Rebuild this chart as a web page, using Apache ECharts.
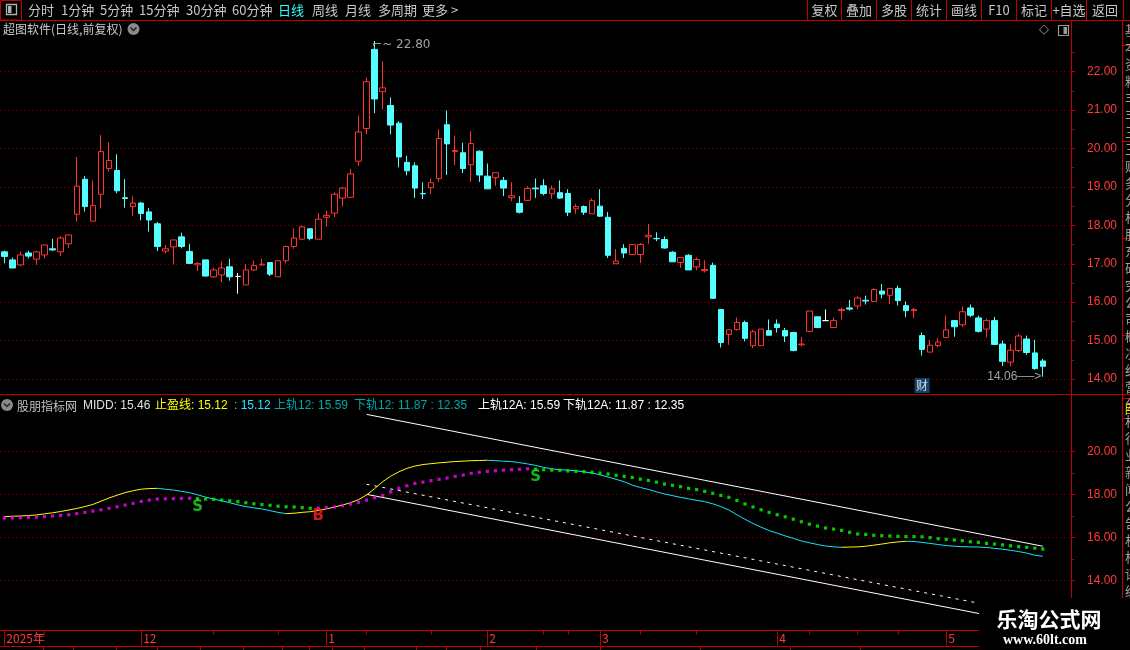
<!DOCTYPE html>
<html><head><meta charset="utf-8">
<script src="https://cdn.jsdelivr.net/npm/echarts@6/dist/echarts.min.js"></script>
<style>html,body{margin:0;padding:0;background:#000;overflow:hidden}#c{width:1130px;height:650px}</style>
</head><body><div id="c"></div>
<script>
// ---------- data ----------
const opens = [17.31,17.10,16.97,17.28,17.12,17.23,17.39,17.31,17.52,18.29, 19.20,18.11,18.81,19.48,19.43,18.72,18.49,18.58,18.35,18.04,
 17.33,17.44,17.70,17.32,16.97,17.10,16.66,16.71,16.92,16.67, 16.45,16.84,16.97,17.03,16.66,17.08,17.45,17.64,17.91,17.64,
 18.21,18.32,18.71,18.73,19.67,20.52,22.58,21.48,21.12,20.66, 19.64,19.55,18.83,18.98,19.22,20.62,19.92,19.89,19.58,19.93,
 19.28,19.24,19.17,18.72,18.57,18.65,18.97,19.03,18.82,18.85, 18.83,18.43,18.49,18.30,18.50,18.21,17.00,17.40,17.24,17.24,
 17.70,17.66,17.63,17.30,17.03,17.22,16.92,16.82,16.96,15.81, 15.16,15.29,15.47,14.87,14.87,15.26,15.43,15.26,15.21,14.89,
 15.24,15.62,15.52,15.34,15.78,15.85,15.90,16.05,16.02,16.29, 16.18,16.36,15.91,15.78,15.13,14.70,14.87,15.08,15.52,15.41,
 15.85,15.59,15.30,15.52,14.91,14.44,14.74,15.04,14.68,14.47];
const closes = [17.19,16.89,17.23,17.20,17.31,17.49,17.36,17.67,17.75,19.02, 18.49,18.52,19.92,19.69,18.90,18.70,18.58,18.31,18.14,17.45,
 17.39,17.62,17.45,17.01,17.01,16.68,16.84,16.89,16.66,16.67, 16.84,16.95,16.99,16.73,17.08,17.45,17.67,17.96,17.66,18.16,
 18.26,18.81,18.97,19.34,20.43,21.74,21.29,21.58,20.61,19.78, 19.42,18.97,18.82,19.11,20.26,20.12,19.95,19.48,20.13,19.31,
 18.95,19.37,18.97,18.77,18.34,18.96,18.95,18.83,18.95,18.71, 18.34,18.49,18.34,18.64,18.24,17.22,17.07,17.28,17.50,17.50,
 17.74,17.65,17.41,17.05,17.16,16.84,17.11,16.85,16.10,14.95, 15.28,15.47,15.06,15.23,15.30,15.14,15.34,15.12,14.74,14.91,
 15.77,15.34,15.52,15.52,15.81,15.82,16.11,16.03,16.33,16.21, 16.36,16.04,15.78,15.81,14.77,14.88,14.96,15.28,15.36,15.75,
 15.66,15.24,15.52,14.90,14.46,14.75,15.12,14.69,14.27,14.33];
const lows = [17.01,16.89,16.94,17.14,16.97,17.14,17.33,17.20,17.41,18.10, 18.36,18.11,18.44,19.40,18.83,18.46,18.25,18.13,17.84,17.33,
 17.27,16.99,17.40,17.01,16.81,16.68,16.63,16.52,16.56,16.22, 16.45,16.81,16.95,16.68,16.66,17.01,17.39,17.62,17.61,17.64,
 17.97,18.21,18.49,18.73,19.55,20.38,20.92,21.02,20.37,19.51, 19.30,18.71,18.69,18.82,19.13,19.31,19.57,19.36,19.13,19.13,
 18.95,19.03,18.76,18.63,18.31,18.63,18.71,18.78,18.69,18.69, 18.24,18.30,18.27,18.30,18.22,17.15,17.00,17.15,17.24,17.02,
 17.52,17.59,17.39,17.05,16.89,16.84,16.83,16.77,16.10,14.82, 14.89,15.26,14.98,14.80,14.87,15.14,15.21,14.96,14.72,14.85,
 15.24,15.32,15.52,15.33,15.55,15.78,15.82,15.94,16.02,16.10, 15.95,15.91,15.61,15.58,14.61,14.70,14.83,15.08,15.10,15.35,
 15.61,15.21,15.08,14.90,14.34,14.33,14.70,14.63,14.24,14.06];
const highs = [17.34,17.16,17.32,17.34,17.34,17.49,17.65,17.72,17.75,19.78, 19.28,19.17,20.35,20.16,19.85,19.20,18.76,18.61,18.45,18.09,
 17.49,17.62,17.81,17.52,17.04,17.10,16.90,17.06,17.13,16.76, 16.99,17.08,17.13,17.03,17.08,17.47,17.92,18.00,17.91,18.32,
 18.38,18.86,19.00,19.47,20.86,21.85,22.80,22.27,21.33,20.71, 19.81,19.64,19.12,19.22,20.50,20.99,20.34,20.15,20.45,19.95,
 19.61,19.37,19.26,19.12,18.76,19.02,19.22,19.20,19.03,19.17, 18.94,18.56,18.52,18.70,18.94,18.35,17.38,17.51,17.50,17.54,
 18.04,17.82,17.71,17.33,17.16,17.25,17.16,17.09,17.03,15.81, 15.28,15.60,15.52,15.28,15.30,15.55,15.55,15.33,15.23,15.09,
 15.77,15.62,15.81,15.60,15.85,16.06,16.16,16.17,16.36,16.47, 16.36,16.43,16.02,15.85,15.21,15.01,15.07,15.65,15.52,15.89,
 15.94,15.65,15.57,15.62,15.00,14.91,15.18,15.13,15.02,14.52];
// 止盈线 (solid line, yellow rising / cyan falling)
const stopLine = [16.97,16.99,17.00,17.02,17.05,17.10,17.15,17.21,17.28,17.35, 17.44,17.54,17.69,17.84,17.97,18.09,18.18,18.25,18.28,18.29,
 18.25,18.21,18.15,18.09,17.99,17.88,17.79,17.71,17.62,17.52, 17.44,17.38,17.33,17.25,17.17,17.11,17.13,17.17,17.20,17.26,
 17.33,17.42,17.51,17.62,17.76,17.98,18.28,18.60,18.86,19.06, 19.22,19.33,19.40,19.44,19.48,19.51,19.54,19.56,19.58,19.59,
 19.60,19.58,19.56,19.54,19.49,19.43,19.36,19.27,19.20,19.16, 19.14,19.11,19.06,19.01,18.92,18.82,18.71,18.60,18.44,18.33,
 18.24,18.13,18.03,17.95,17.87,17.80,17.73,17.67,17.57,17.44, 17.28,17.06,16.85,16.65,16.48,16.32,16.20,16.07,15.96,15.84,
 15.75,15.67,15.60,15.56,15.54,15.55,15.56,15.59,15.64,15.69, 15.75,15.79,15.82,15.81,15.77,15.72,15.67,15.62,15.59,15.57,
 15.56,15.55,15.53,15.49,15.45,15.40,15.34,15.27,15.17,15.12];
// MIDD (dotted line, magenta rising / green falling)
const middLine = [16.90,16.91,16.92,16.94,16.95,16.97,17.00,17.03,17.06,17.11, 17.17,17.23,17.29,17.36,17.43,17.51,17.59,17.68,17.74,17.79,
 17.80,17.81,17.82,17.83,17.81,17.79,17.78,17.74,17.71,17.67, 17.62,17.57,17.53,17.50,17.46,17.43,17.42,17.39,17.36,17.37,
 17.39,17.42,17.48,17.56,17.64,17.74,17.85,17.96,18.13,18.29, 18.41,18.52,18.58,18.65,18.71,18.77,18.85,18.91,18.99,19.04,
 19.08,19.11,19.14,19.16,19.18,19.20,19.19,19.16,19.14,19.13, 19.10,19.08,19.07,19.04,19.00,18.96,18.90,18.85,18.80,18.72,
 18.66,18.58,18.49,18.43,18.37,18.29,18.23,18.15,18.06,17.96, 17.87,17.72,17.56,17.42,17.29,17.17,17.06,16.96,16.85,16.73,
 16.62,16.53,16.44,16.39,16.33,16.24,16.16,16.14,16.10,16.08, 16.07,16.05,16.04,16.04,16.03,15.99,15.94,15.91,15.88,15.85,
 15.80,15.77,15.72,15.69,15.65,15.61,15.57,15.54,15.50,15.46];
// channel lines: start / end index and values
const railIdx = [45, 129];
const upperRail = [21.74, 15.59];
const lowerRail = [18.01, 11.87];
const midRail = [18.48, 12.35];
const sellSignals = [24, 66];
const buySignals = [39];
const eventMarks = [[114, 13.83]]; // 财
// axis ticks
const monthLabels = ['2025年','12','1','2','3','4','5'];
const monthStarts = [0,17,40,60,74,96,117];
const minorDateTicks = [5,26,34,45,53,67,70,79,86,100,106,111];
const mainTicks = [14,22,1];   // min, max, interval
const subTicks = [14,20,2];

// ---------- build ----------
const PAD = 3;
const nBars = opens.length;
const categories = Array.from({length: nBars + PAD}, (_, i) => String(i));
const candleData = opens.map((o, i) => {
  const v = [o, closes[i], lows[i], highs[i]];
  if (o === closes[i]) return {value: v, itemStyle: {color:'#fff', color0:'#fff', borderColor:'#fff', borderColor0:'#fff'}};
  return v;
});
const rise = i => i > 0 && stopLine[i] > stopLine[i-1];
const yellowData = stopLine.map((v, i) => (rise(i) || rise(i+1)) ? v : null);
const cyanData = stopLine.map((v, i) => ((i > 0 && !rise(i)) || (i + 1 < nBars && !rise(i+1))) ? v : null);
let hiIdx = 0; highs.forEach((h, i) => { if (h > highs[hiIdx]) hiIdx = i; });
let loIdx = 0; lows.forEach((l, i) => { if (l < lows[loIdx]) loIdx = i; });

const RED = '#c00000', LRED = '#ff3c3c', GRAY = '#c8c8c8';
const FONT = '"Liberation Sans","Noto Sans CJK SC",sans-serif';
const CJK = '"Noto Sans CJK SC","Liberation Sans",sans-serif';

const G = [];
function txt(x, y, t, fill, size, extra) {
  G.push({type:'text', x, y, z:100, style:Object.assign({text:t, fill, fontSize:size||13, fontFamily:FONT, verticalAlign:'middle', align:'left'}, extra||{})});
}
function ln(x1, y1, x2, y2, stroke, extra) {
  G.push({type:'line', z:95, shape:{x1,y1,x2,y2}, style:Object.assign({stroke, lineWidth:1}, extra||{})});
}
function rc(x, y, w, h, style, z) { G.push({type:'rect', z:z||95, shape:{x,y,width:w,height:h}, style}); }
function chevron(cx, cy) {
  G.push({type:'circle', z:95, shape:{cx, cy, r:6}, style:{fill:'#8a8a8a'}});
  G.push({type:'polyline', z:96, shape:{points:[[cx-3,cy-1.5],[cx,cy+1.5],[cx+3,cy-1.5]]}, style:{stroke:'#222', lineWidth:1.5, fill:null}});
}

// top toolbar
ln(0, 20.5, 1130, 20.5, RED);
rc(0.5, 0.5, 21, 19.5, {stroke:RED, fill:null, lineWidth:1});
rc(6.5, 4.5, 10, 10, {stroke:'#b0b0b0', fill:null, lineWidth:1.3});
rc(8, 6, 3.5, 7, {fill:'#b0b0b0'});
[['分时',28],['1分钟',61],['5分钟',100],['15分钟',139],['30分钟',186],['60分钟',232],['日线',278],['周线',312],['月线',345],['多周期',378],['更多 >',422]]
  .forEach(([t, x]) => txt(x, 10, t, t === '日线' ? '#33ffff' : GRAY, 13, {fontFamily:CJK}));
const seps = [807.5,841.5,876.5,911.5,946.5,981.5,1016.5,1051.5,1086.5,1123.5];
seps.forEach(x => ln(x, 0, x, 20, RED));
['复权','叠加','多股','统计','画线','F10','标记','+自选','返回'].forEach((t, i) =>
  txt((seps[i] + seps[i+1]) / 2, 10, t, GRAY, 13, {align:'center', fontFamily:CJK}));
// subtitle
txt(3, 29, '超图软件(日线,前复权)', GRAY, 12, {fontFamily:CJK});
chevron(133.5, 29);
txt(1044, 30, '◇', '#9a9a9a', 13, {align:'center', fontFamily:'"DejaVu Sans"'});
rc(1058.5, 25.5, 10, 10, {stroke:'#9a9a9a', fill:null, lineWidth:1.2});
rc(1063.5, 27, 3.5, 7, {fill:'#9a9a9a'});

// frame lines
ln(1071.5, 20, 1071.5, 650, RED);
ln(1122.5, 20, 1122.5, 650, RED);
ln(0, 394.5, 1130, 394.5, RED);
ln(0, 630.5, 1071.5, 630.5, RED);
ln(0, 646.5, 1071.5, 646.5, RED);
[43,73,116,157,200,243,282,309,332,364,416,446,480,536,600,700,790,860].forEach(x => ln(x+0.5, 646.5, x+0.5, 650, RED));
ln(1071.5, 52.6, 1075, 52.6, RED);
// right strip
[45.5,141.5,238.5,335.5].forEach(y => ln(1122.5, y, 1130, y, RED));
const stripChars = '基本资料丰丰三三财务分析股东研究公司概况经营分析行业新闻公告机构评级热点题材';
for (let k = 0; k < 36; k++) txt(1125, 30 + k * 17, stripChars[k % stripChars.length], '#a0a0a0', 13, {fontFamily:CJK});
rc(1122.5, 398.5, 10, 20, {stroke:RED, fill:'#000', lineWidth:1}, 97);
txt(1124, 409, '目', '#e0e000', 12, {fontFamily:CJK});

// lower header
chevron(7, 405);
txt(17, 406, '股朋指标网', '#c0c0c0', 12, {fontFamily:CJK});
txt(83, 406, 'MIDD: ' + middLine[nBars-1].toFixed(2), '#e0e0e0', 12);
txt(155, 406, '止盈线: ' + stopLine[nBars-1].toFixed(2), '#ffff00', 12);
txt(234, 406, ': ' + stopLine[nBars-1].toFixed(2), '#22e8ff', 12);
txt(274, 406, '上轨12: ' + upperRail[1].toFixed(2), '#00a8a8', 12);
txt(354, 406, '下轨12: ' + lowerRail[1].toFixed(2) + ' : ' + midRail[1].toFixed(2), '#00a8a8', 12);
txt(478, 406, '上轨12A: ' + upperRail[1].toFixed(2), '#ffffff', 12);
txt(563, 406, '下轨12A: ' + lowerRail[1].toFixed(2) + ' : ' + midRail[1].toFixed(2), '#ffffff', 12);

// watermark
rc(979, 598, 151, 52, {fill:'#000'}, 200);
G.push({type:'text', x:1049, y:619, z:201, style:{text:'乐淘公式网', fill:'#ffffff', fontSize:21, fontWeight:'bold', fontFamily:CJK, align:'center', verticalAlign:'middle'}});
G.push({type:'text', x:1045, y:640, z:201, style:{text:'www.60lt.com', fill:'#ffffff', fontSize:14, fontWeight:'bold', fontFamily:'"Liberation Serif",serif', align:'center', verticalAlign:'middle'}});

const gridL = 0.3, gridR = 59;
const hiddenX = gi => ({type:'category', gridIndex:gi, data:categories, boundaryGap:true, show:false});
function yAx(gi, t) {
  return {type:'value', gridIndex:gi, position:'right', min:t[0], max:t[1], interval:t[2],
    axisLine:{show:false},
    axisTick:{show:true, length:4, lineStyle:{color:RED}},
    minorTick:{show:true, splitNumber:2, length:3, lineStyle:{color:RED}},
    axisLabel:{color:LRED, fontSize:12, margin:16, fontFamily:FONT, formatter:v => v.toFixed(2)},
    splitLine:{show:true, lineStyle:{color:'#9a0000', width:1, type:[1,3]}},
    minorSplitLine:{show:false}};
}
const noSym = {symbolSize:1, itemStyle:{color:'rgba(0,0,0,0)'}, clip:false, silent:true};

const option = {
  backgroundColor:'#000',
  animation:false,
  grid:[
    {left:gridL, right:gridR, top:71.7, height:307.3},
    {left:gridL, right:gridR, top:451.7, height:128.6},
    {left:gridL, right:gridR, top:629.5, height:1}
  ],
  xAxis:[
    hiddenX(0), hiddenX(1),
    {type:'category', gridIndex:2, data:categories, boundaryGap:true, position:'bottom',
      axisLine:{show:false},
      axisTick:{show:true, alignWithLabel:true, length:15, interval:i => monthStarts.includes(i), lineStyle:{color:RED}},
      axisLabel:{show:true, interval:i => monthStarts.includes(i), align:'left', margin:2, padding:[0,0,0,2],
        color:LRED, fontSize:12, fontFamily:CJK, formatter:(v, i) => { const k = monthStarts.indexOf(i); return k >= 0 ? monthLabels[k] : ''; }}},
    {type:'category', gridIndex:2, data:categories, boundaryGap:true, position:'bottom',
      axisLine:{show:false}, axisLabel:{show:false},
      axisTick:{show:true, alignWithLabel:true, length:4, interval:i => minorDateTicks.includes(i), lineStyle:{color:RED}}}
  ],
  yAxis:[yAx(0, mainTicks), yAx(1, subTicks), {type:'value', gridIndex:2, show:false}],
  series:[
    {type:'candlestick', xAxisIndex:0, yAxisIndex:0, data:candleData, barWidth:6, clip:false,
      itemStyle:{color:'#000', color0:'#54ffff', borderColor:'#ff3333', borderColor0:'#54ffff', borderWidth:1}},
    // high / low annotations
    Object.assign({type:'scatter', xAxisIndex:0, yAxisIndex:0, data:[[hiIdx, highs[hiIdx]]], z:10,
      label:{show:true, position:'right', distance:0, offset:[-3,4], color:GRAY, fontSize:12, fontFamily:'"DejaVu Sans"',
        formatter:'⌐~ ' + highs[hiIdx].toFixed(2)}}, noSym),
    Object.assign({type:'scatter', xAxisIndex:0, yAxisIndex:0, data:[[loIdx, lows[loIdx]]], z:10,
      label:{show:true, position:'left', distance:1, color:GRAY, fontSize:12, fontFamily:'"Liberation Sans"',
        formatter:lows[loIdx].toFixed(2) + '──>'}}, noSym),
    {type:'scatter', xAxisIndex:0, yAxisIndex:0, data:eventMarks, symbol:'rect', symbolSize:[15,15], clip:false, z:10,
      itemStyle:{color:'#1c5184'}, label:{show:true, position:'inside', formatter:'财', color:'#fff', fontSize:12, fontFamily:CJK}},
    {type:'line', xAxisIndex:1, yAxisIndex:1, data:cyanData, showSymbol:false, symbol:'none', clip:false, connectNulls:false,
      lineStyle:{color:'#10e6ff', width:1}, z:3},
    {type:'line', xAxisIndex:1, yAxisIndex:1, data:yellowData, showSymbol:false, symbol:'none', clip:false, connectNulls:false,
      lineStyle:{color:'#ffff00', width:1}, z:3},
    {type:'scatter', xAxisIndex:1, yAxisIndex:1, data:middLine, symbol:'rect', z:4,
      symbolSize:(v, p) => { const i = p.dataIndex; const d = i > 0 ? Math.abs(middLine[i] - middLine[i-1]) * 21.43 : 0; return [3.2, Math.max(3.2, d)]; },
      itemStyle:{color:p => (p.dataIndex === 0 || middLine[p.dataIndex] > middLine[p.dataIndex-1]) ? '#ff00ff' : '#00ff00'}},
    {type:'line', xAxisIndex:1, yAxisIndex:1, data:railIdx.map((x, k) => [x, upperRail[k]]), symbol:'none', clip:false, lineStyle:{color:'#ffffff', width:1}, z:2},
    {type:'line', xAxisIndex:1, yAxisIndex:1, data:railIdx.map((x, k) => [x, lowerRail[k]]), symbol:'none', clip:false, lineStyle:{color:'#ffffff', width:1}, z:2},
    {type:'line', xAxisIndex:1, yAxisIndex:1, data:railIdx.map((x, k) => [x, midRail[k]]), symbol:'none', clip:false, lineStyle:{color:'#ffffff', width:1, type:[3,5]}, z:2},
    Object.assign({type:'scatter', xAxisIndex:1, yAxisIndex:1, data:sellSignals.map(i => [i, middLine[i]]), z:6,
      label:{show:true, position:'inside', offset:[0,8], formatter:'S', color:'#22dd22', fontSize:15, fontWeight:'bold', fontFamily:'"DejaVu Sans"'}}, noSym),
    Object.assign({type:'scatter', xAxisIndex:1, yAxisIndex:1, data:buySignals.map(i => [i, middLine[i]]), z:6,
      label:{show:true, position:'inside', offset:[0,8], formatter:'B', color:'#ff2222', fontSize:15, fontWeight:'bold', fontFamily:'"DejaVu Sans"'}}, noSym)
  ],
  graphic:G
};
const chart = echarts.init(document.getElementById('c'));
chart.setOption(option);
</script>
</body></html>
